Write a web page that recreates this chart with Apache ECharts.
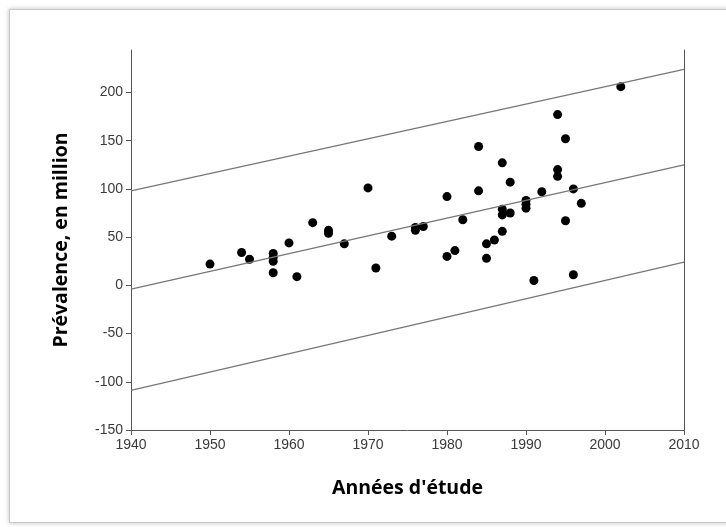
<!DOCTYPE html>
<html>
<head>
<meta charset="utf-8">
<script src="https://cdn.jsdelivr.net/npm/echarts@6/dist/echarts.min.js"></script>
<style>
  html, body { margin: 0; padding: 0; background: #fff; }
  #frame {
    position: absolute; left: 9px; top: 9px; width: 722px; height: 512px;
    border: 1px solid #c8c8c8; box-shadow: 0 0 5px rgba(0,0,0,0.25); background: #fff;
  }
  #chart { position: absolute; left: 0; top: 0; width: 726px; height: 527px; }
</style>
</head>
<body>
<div id="frame"></div>
<div id="chart"></div>
<script>
// années et prévalence (millions)
const studies = [
  [1950, 22], [1954, 34], [1955, 27], [1958, 33], [1958, 29], [1958, 25], [1958, 13],
  [1960, 44], [1961, 9], [1963, 65], [1965, 57], [1965, 54], [1967, 43], [1970, 101],
  [1971, 18], [1973, 51], [1976, 60], [1976, 57], [1977, 61], [1980, 92], [1980, 30],
  [1981, 36], [1982, 68], [1984, 144], [1984, 98], [1985, 43], [1986, 47], [1985, 28],
  [1987, 127], [1988, 107], [1987, 79], [1987, 73], [1988, 75], [1987, 56], [1990, 88],
  [1990, 84], [1990, 80], [1992, 97], [1991, 5], [1994, 177], [1995, 152], [1994, 120],
  [1994, 113], [1996, 100], [1997, 85], [1995, 67], [1996, 11], [2002, 206]
];
// droite de régression et bornes (valeurs en 1940 et 2010)
const lineYears = [1940, 2010];
const upperLine = [98, 224];
const fitLine = [-4, 125];
const lowerLine = [-109, 24];
const yTicks = [-150, -100, -50, 0, 50, 100, 150, 200];

const chart = echarts.init(document.getElementById('chart'));
const axisColor = '#555';
const labelStyle = { color: '#3a3a3a', fontSize: 14, fontFamily: 'Liberation Sans, Arial' };
const titleStyle = { color: '#000', fontSize: 19.5, fontWeight: 'bold', fontFamily: 'Open Sans' };
const toPairs = vals => lineYears.map((yr, i) => [yr, vals[i]]);
const lineSeries = vals => ({
  type: 'line', data: toPairs(vals), symbol: 'none', silent: true,
  lineStyle: { color: '#777', width: 1.3 }
});

chart.setOption({
  animation: false,
  grid: { left: 131, right: 42, top: 50, bottom: 97 },
  xAxis: {
    type: 'value', min: 1940, max: 2010, interval: 10,
    name: "Années d'étude", nameLocation: 'middle', nameGap: 48,
    nameTextStyle: titleStyle,
    axisLine: { onZero: false, lineStyle: { color: axisColor } },
    axisTick: { length: 5, lineStyle: { color: axisColor } },
    axisLabel: Object.assign({ margin: 8, formatter: v => String(v) }, labelStyle),
    splitLine: { show: false }
  },
  yAxis: [{
    type: 'value', min: -150, max: 244,
    name: 'Prévalence, en million', nameLocation: 'middle', nameGap: 60,
    nameTextStyle: titleStyle,
    axisLine: { show: true, onZero: false, lineStyle: { color: axisColor } },
    axisTick: { show: true, length: 5, customValues: yTicks, lineStyle: { color: axisColor } },
    axisLabel: Object.assign({ margin: 8, customValues: yTicks }, labelStyle),
    splitLine: { show: false }
  }, {
    type: 'value', min: -150, max: 244, position: 'right',
    axisLine: { show: true, onZero: false, lineStyle: { color: axisColor } },
    axisTick: { show: false }, axisLabel: { show: false }, splitLine: { show: false }
  }],
  series: [
    lineSeries(upperLine),
    lineSeries(fitLine),
    lineSeries(lowerLine),
    {
      type: 'scatter', data: studies, symbolSize: 9,
      itemStyle: { color: '#000', opacity: 1 }
    }
  ]
});
</script>
</body>
</html>
